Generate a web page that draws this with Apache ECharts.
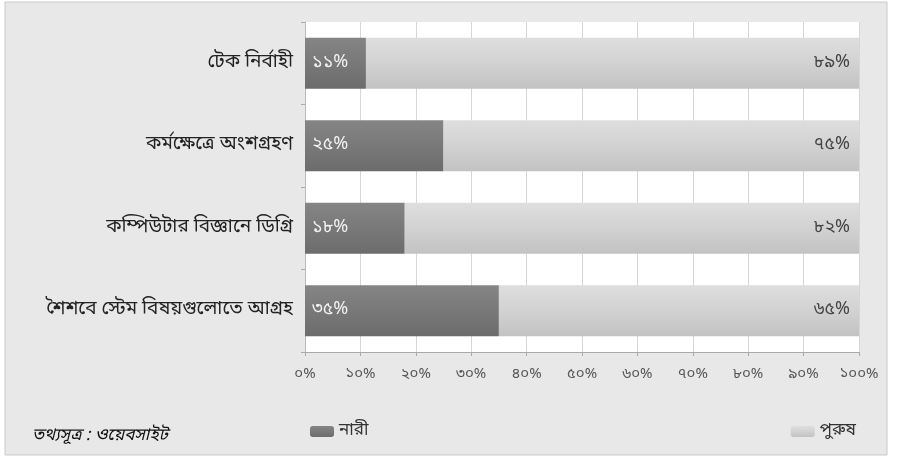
<!DOCTYPE html>
<html><head><meta charset="utf-8">
<script src="https://cdn.jsdelivr.net/npm/echarts@6/dist/echarts.min.js"></script>
<style>html,body{margin:0;padding:0;background:#fff}#c{width:897px;height:465px}</style>
</head><body><div id="c"></div>
<script>
const categories = ['টেক নির্বাহী', 'কর্মক্ষেত্রে অংশগ্রহণ', 'কম্পিউটার বিজ্ঞানে ডিগ্রি', 'শৈশবে স্টেম বিষয়গুলোতে আগ্রহ'];
const femaleValues = [11, 25, 18, 35];
const maleValues = [89, 75, 82, 65];
const seriesNames = ['নারী', 'পুরুষ'];
const tickValues = [0, 10, 20, 30, 40, 50, 60, 70, 80, 90, 100];
const sourceText = 'তথ্যসূত্র : ওয়েবসাইট';

const bnDigits = '০১২৩৪৫৬৭৮৯';
const toBn = n => String(n).replace(/[0-9]/g, d => bnDigits[+d]);
const FONT = '"Noto Sans Bengali","Lohit Bengali","Noto Sans","DejaVu Sans",sans-serif';

const chart = echarts.init(document.getElementById('c'));
chart.setOption({
  backgroundColor: 'transparent',
  animation: false,
  textStyle: { fontFamily: FONT },
  graphic: [
    { type: 'rect', z: -10, shape: { x: 5, y: 2, width: 882, height: 453 },
      style: { fill: '#e8e8e8', stroke: '#c9c9c9', lineWidth: 1 } },
    { type: 'text', left: 32, top: 428,
      style: { text: sourceText, font: 'italic 17px ' + FONT, fill: '#111' } }
  ],
  grid: { left: 305, right: 38, top: 22, bottom: 113, show: true, backgroundColor: '#ffffff', borderWidth: 0 },
  legend: [
    { data: [seriesNames[0]], left: 305, top: 418, itemWidth: 24, itemHeight: 11, itemGap: 3,
      textStyle: { fontSize: 17, color: '#333', fontFamily: FONT } },
    { data: [seriesNames[1]], right: 36, top: 418, itemWidth: 24, itemHeight: 11, itemGap: 3,
      textStyle: { fontSize: 17, color: '#333', fontFamily: FONT } }
  ],
  xAxis: {
    type: 'value', min: 0, max: 100, interval: 10,
    axisLine: { show: true, lineStyle: { color: '#aaaaaa' } },
    axisTick: { show: true, length: 4, lineStyle: { color: '#aaaaaa' } },
    splitLine: { show: true, lineStyle: { color: '#d6d6d6' } },
    axisLabel: { color: '#555', fontSize: 15, margin: 16, fontFamily: FONT,
      formatter: v => tickValues.includes(v) ? toBn(v) + '%' : '' }
  },
  yAxis: {
    type: 'category', data: categories, inverse: true,
    axisLine: { show: true, lineStyle: { color: '#bbbbbb' } },
    axisTick: { show: true, length: 4, lineStyle: { color: '#aaaaaa' } },
    axisLabel: { color: '#222', fontSize: 19, margin: 12, fontFamily: FONT }
  },
  series: [
    { name: seriesNames[0], type: 'bar', stack: 's', data: femaleValues, barWidth: '62%',
      itemStyle: { color: new echarts.graphic.LinearGradient(0, 0, 0, 1, [
        { offset: 0, color: '#858585' }, { offset: 1, color: '#6c6c6c' }]) },
      label: { show: true, position: 'insideLeft', offset: [2, 0], color: '#f2f2f2', fontSize: 18,
        fontFamily: FONT, formatter: p => toBn(p.value) + '%' } },
    { name: seriesNames[1], type: 'bar', stack: 's', data: maleValues, barWidth: '62%',
      itemStyle: { color: new echarts.graphic.LinearGradient(0, 0, 0, 1, [
        { offset: 0, color: '#dedede' }, { offset: 0.5, color: '#d2d2d2' }, { offset: 1, color: '#c2c2c2' }]) },
      label: { show: true, position: 'insideRight', offset: [-4, 0], color: '#444', fontSize: 18,
        fontFamily: FONT, formatter: p => toBn(p.value) + '%' } }
  ]
});
</script></body></html>
